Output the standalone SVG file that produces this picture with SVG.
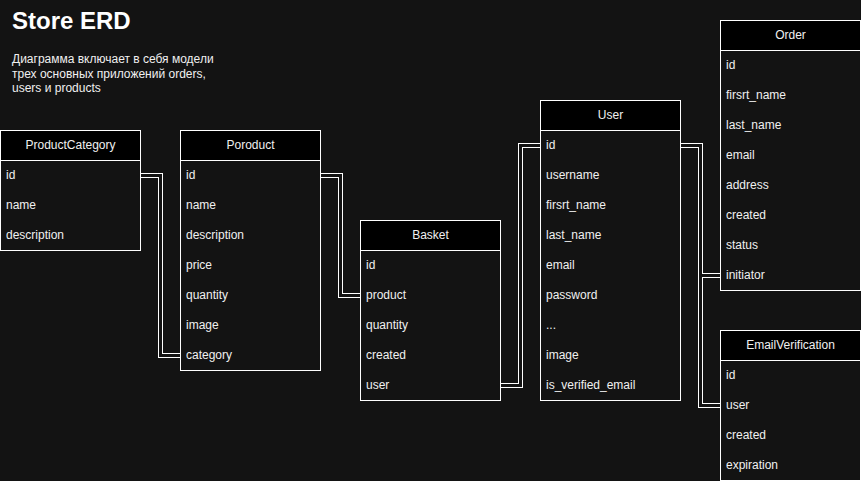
<svg xmlns="http://www.w3.org/2000/svg" width="861" height="481" viewBox="0 0 861 481">
<style>
.bg{fill:#131313}
.tb{fill:#131313;stroke:#ffffff;stroke-width:1}
.hd{fill:#000000;stroke:#ffffff;stroke-width:1}
.t{font-family:"Liberation Sans",Arial,sans-serif;font-size:12px;fill:#f0f0f0}
.h{text-anchor:middle}
.out{fill:none;stroke:#ffffff;stroke-width:5;stroke-linejoin:miter}
.in{fill:none;stroke:#131313;stroke-width:3;stroke-linejoin:miter}
</style>
<rect class="bg" x="0" y="0" width="861" height="481"/>
<g id="title">
<text x="12" y="29" font-family="Liberation Sans, Arial, sans-serif" font-size="24" font-weight="bold" fill="#ffffff">Store ERD</text>
<text class="t" x="12" y="63">Диаграмма включает в себя модели</text>
<text class="t" x="12" y="77.5">трех основных приложений orders,</text>
<text class="t" x="12" y="92">users и products</text>
</g>
<g id="connectors">
<path class="out" d="M140,175.5H160.5V355.5H180"/>
<path class="out" d="M320,175.5H340.5V295.5H360"/>
<path class="out" d="M500,385.5H520.5V145.5H540"/>
<path class="out" d="M680,145.5H700.5V405.5H720"/>
<path class="out" d="M680,145.5H700.5V275.5H720"/>
<path class="in" d="M140,175.5H160.5V355.5H180"/>
<path class="in" d="M320,175.5H340.5V295.5H360"/>
<path class="in" d="M500,385.5H520.5V145.5H540"/>
<path class="in" d="M680,145.5H700.5V405.5H720"/>
<path class="in" d="M680,145.5H700.5V275.5H720"/>
</g>
<g id="ProductCategory">
<rect class="tb" x="0.5" y="130.5" width="140" height="120"/>
<rect class="hd" x="0.5" y="130.5" width="140" height="30"/>
<text class="t h" x="70.5" y="149">ProductCategory</text>
<text class="t" x="6" y="179">id</text>
<text class="t" x="6" y="209">name</text>
<text class="t" x="6" y="239">description</text>
</g>
<g id="Poroduct">
<rect class="tb" x="180.5" y="130.5" width="140" height="240"/>
<rect class="hd" x="180.5" y="130.5" width="140" height="30"/>
<text class="t h" x="250.5" y="149">Poroduct</text>
<text class="t" x="186" y="179">id</text>
<text class="t" x="186" y="209">name</text>
<text class="t" x="186" y="239">description</text>
<text class="t" x="186" y="269">price</text>
<text class="t" x="186" y="299">quantity</text>
<text class="t" x="186" y="329">image</text>
<text class="t" x="186" y="359">category</text>
</g>
<g id="Basket">
<rect class="tb" x="360.5" y="220.5" width="140" height="180"/>
<rect class="hd" x="360.5" y="220.5" width="140" height="30"/>
<text class="t h" x="430.5" y="239">Basket</text>
<text class="t" x="366" y="269">id</text>
<text class="t" x="366" y="299">product</text>
<text class="t" x="366" y="329">quantity</text>
<text class="t" x="366" y="359">created</text>
<text class="t" x="366" y="389">user</text>
</g>
<g id="User">
<rect class="tb" x="540.5" y="100.5" width="140" height="300"/>
<rect class="hd" x="540.5" y="100.5" width="140" height="30"/>
<text class="t h" x="610.5" y="119">User</text>
<text class="t" x="546" y="149">id</text>
<text class="t" x="546" y="179">username</text>
<text class="t" x="546" y="209">firsrt_name</text>
<text class="t" x="546" y="239">last_name</text>
<text class="t" x="546" y="269">email</text>
<text class="t" x="546" y="299">password</text>
<text class="t" x="546" y="329">...</text>
<text class="t" x="546" y="359">image</text>
<text class="t" x="546" y="389">is_verified_email</text>
</g>
<g id="Order">
<rect class="tb" x="720.5" y="20.5" width="140" height="270"/>
<rect class="hd" x="720.5" y="20.5" width="140" height="30"/>
<text class="t h" x="790.5" y="39">Order</text>
<text class="t" x="726" y="69">id</text>
<text class="t" x="726" y="99">firsrt_name</text>
<text class="t" x="726" y="129">last_name</text>
<text class="t" x="726" y="159">email</text>
<text class="t" x="726" y="189">address</text>
<text class="t" x="726" y="219">created</text>
<text class="t" x="726" y="249">status</text>
<text class="t" x="726" y="279">initiator</text>
</g>
<g id="EmailVerification">
<rect class="tb" x="720.5" y="330.5" width="140" height="150"/>
<rect class="hd" x="720.5" y="330.5" width="140" height="30"/>
<text class="t h" x="790.5" y="349">EmailVerification</text>
<text class="t" x="726" y="379">id</text>
<text class="t" x="726" y="409">user</text>
<text class="t" x="726" y="439">created</text>
<text class="t" x="726" y="469">expiration</text>
</g>
</svg>
